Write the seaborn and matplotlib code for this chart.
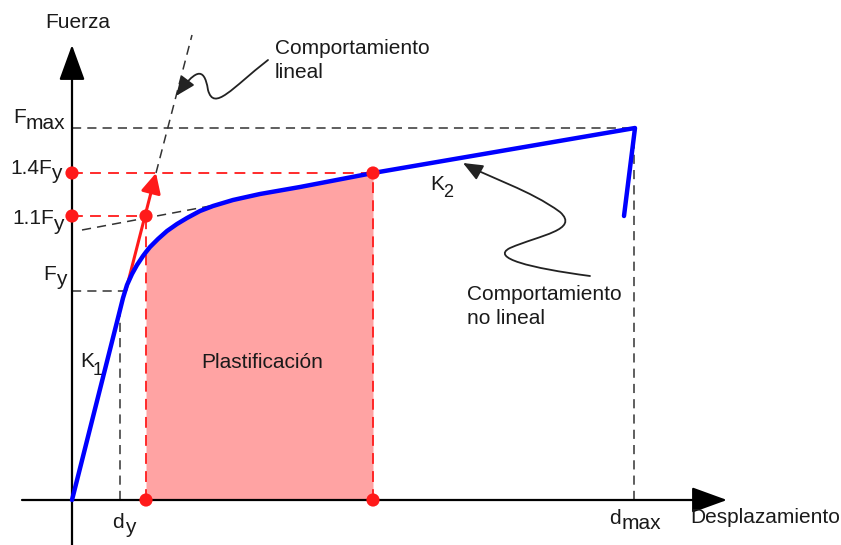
import matplotlib.pyplot as plt
import seaborn as sns
from matplotlib.path import Path
from matplotlib.patches import FancyArrowPatch

# curva fuerza-desplazamiento (unidades arbitrarias del esquema)
desp = [0, 48, 51, 55, 60, 65, 71, 74, 78, 86, 95, 105, 115, 128, 141,
        161, 188, 228, 301, 563, 552]
fuerza = [0, 190, 202, 215, 226, 235, 244, 248, 253, 261, 269, 276, 282, 289, 294,
          300, 306, 313, 327, 372, 284]

# niveles de fuerza y desplazamientos caracteristicos
F_y, F_11, F_14, F_max = 209, 284, 327, 372
d_y, d_11, d_14, d_max = 48, 74, 301, 562

# rigidez inicial prolongada (flecha roja + recta discontinua)
lin_d = [54, 84, 120]
lin_f = [210, 327, 465]
# prolongacion de K2 hacia la izquierda
k2_d = [10, 138]
k2_f = [270, 294]

sns.set_theme(style="white")
plt.rcParams['font.family'] = ['Liberation Sans', 'DejaVu Sans']

fig = plt.figure(figsize=(8.41, 5.45), dpi=100)
ax = fig.add_axes([0, 0, 1, 1])
ax.set_xlim(-72, 769)
ax.set_ylim(-45, 500)
ax.axis('off')

txt = '#1a1a1a'
blk = '#333333'
red = '#ff1a1a'
dash = (0, (6, 4))

# ejes con flecha
for tip, tail in [((0, 455), (0, -45)), ((655, 0), (-50, 0))]:
    ax.annotate('', xy=tip, xytext=tail,
                arrowprops=dict(arrowstyle='-|>,head_length=1.1,head_width=0.4',
                                mutation_scale=20, lw=1.6, color='black',
                                shrinkA=0, shrinkB=0))

# zona de plastificacion
i0, i1 = desp.index(d_11), desp.index(d_14)
ax.fill_between(desp[i0:i1 + 1], fuerza[i0:i1 + 1], 0, color='#ffa3a3', lw=0, zorder=1)

# lineas de referencia negras
ax.plot([0, d_max], [F_max, F_max], color=blk, lw=1.1, ls=dash, zorder=2)
ax.plot([d_max, d_max], [0, F_max], color=blk, lw=1.1, ls=dash, zorder=2)
ax.plot([0, 52], [F_y, F_y], color=blk, lw=1.1, ls=dash, zorder=2)
ax.plot([d_y, d_y], [0, 195], color=blk, lw=1.1, ls=dash, zorder=2)
ax.plot(lin_d[1:], lin_f[1:], color=blk, lw=1.1, ls=dash, zorder=2)
ax.plot(k2_d, k2_f, color=blk, lw=1.1, ls=dash, zorder=2)

# lineas de referencia rojas
ax.plot([0, d_11], [F_11, F_11], color=red, lw=1.3, ls=dash, zorder=2)
ax.plot([0, d_14], [F_14, F_14], color=red, lw=1.3, ls=dash, zorder=2)
ax.plot([d_11, d_11], [0, F_11], color=red, lw=1.3, ls=dash, zorder=2)
ax.plot([d_14, d_14], [0, F_14], color=red, lw=1.3, ls=dash, zorder=2)

# flecha roja de rigidez inicial
ax.annotate('', xy=(lin_d[1], lin_f[1]), xytext=(lin_d[0], lin_f[0]),
            arrowprops=dict(arrowstyle='-|>,head_length=0.6,head_width=0.3',
                            mutation_scale=20, lw=2.2, color=red, shrinkA=0, shrinkB=0),
            zorder=4)

# curva de capacidad
sns.lineplot(x=desp, y=fuerza, sort=False, estimator=None, color='#0000ff',
             lw=3.2, ax=ax, zorder=5, solid_capstyle='round', solid_joinstyle='round')

# puntos rojos
px = [0, 0, d_11, d_11, d_14, d_14]
py = [F_11, F_14, F_11, 0, F_14, 0]
sns.scatterplot(x=px, y=py, color=red, s=90, edgecolor='none', ax=ax, zorder=6)


# flechas onduladas de anotacion
def squiggle(verts):
    codes = [Path.MOVETO] + [Path.CURVE4] * (len(verts) - 1)
    p = FancyArrowPatch(path=Path(verts, codes),
                        arrowstyle='-|>,head_length=0.6,head_width=0.25',
                        mutation_scale=20, lw=1.3, color='#222222', zorder=7)
    ax.add_patch(p)


squiggle([(196, 440), (160, 412), (142, 388), (136, 410),
          (132, 436), (122, 428), (104, 404)])
squiggle([(518, 224), (458, 232), (418, 242), (438, 252),
          (468, 265), (508, 270), (488, 288),
          (458, 310), (418, 322), (391, 337)])

fs = 15


def lbl(x, y, base, sub, dx, dy, drop, sfs=fs, gap=0):
    b = ax.annotate(base, (x, y), xytext=(dx, dy), textcoords='offset pixels',
                    ha='left', va='baseline', fontsize=fs, color=txt)
    ax.annotate(sub, xy=(1, 0), xycoords=b, xytext=(gap, -drop),
                textcoords='offset pixels', ha='left', va='bottom',
                fontsize=sfs, color=txt)


lbl(0, F_max, 'F', 'max', -59, 5, 6)
lbl(0, F_14, '1.4F', 'y', -62, -1, 5, gap=-1)
lbl(0, F_11, '1.1F', 'y', -60, -8, 6, gap=-1)
lbl(0, F_y, 'F', 'y', -29, 11, 5)
lbl(d_y, 0, 'd', 'y', -8, -28, 5, gap=1)
lbl(d_max, 0, 'd', 'max', -25, -24, 5, gap=1)
lbl(8, 133, 'K', '1', 0, 0, 8, 13, gap=-1)
lbl(358, 310, 'K', '2', 0, 0, 7, 13, gap=-1)

ax.text(6, 478, 'Fuerza', ha='center', va='center', fontsize=fs, color=txt)
ax.text(618, -23, 'Desplazamiento', ha='left', va='baseline', fontsize=fs, color=txt)
ax.text(190, 138, 'Plastificación', ha='center', va='center', fontsize=fs, color=txt)
ax.text(203, 452, 'Comportamiento', ha='left', va='center', fontsize=fs, color=txt)
ax.text(203, 428, 'lineal', ha='left', va='center', fontsize=fs, color=txt)
ax.text(395, 205, 'Comportamiento', ha='left', va='center', fontsize=fs, color=txt)
ax.text(395, 182, 'no lineal', ha='left', va='center', fontsize=fs, color=txt)

fig.savefig('out.png', dpi=100, facecolor='white')
